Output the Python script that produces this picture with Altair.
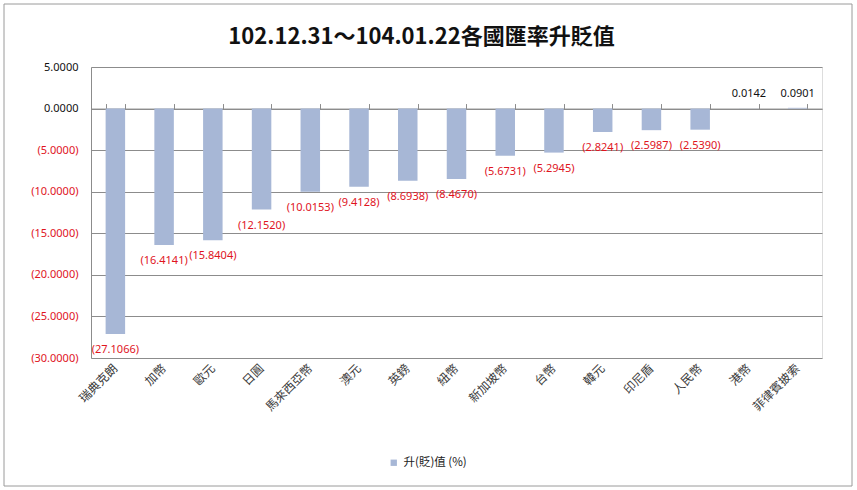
import altair as alt
import pandas as pd

currencies = ["瑞典克朗", "加幣", "歐元", "日圓", "馬來西亞幣", "澳元", "英鎊", "紐幣",
              "新加坡幣", "台幣", "韓元", "印尼盾", "人民幣", "港幣", "菲律賓披索"]
changes = [-27.1066, -16.4141, -15.8404, -12.1520, -10.0153, -9.4128, -8.6938, -8.4670,
           -5.6731, -5.2945, -2.8241, -2.5987, -2.5390, 0.0142, 0.0901]
series_name = "升(貶)值 (%)"
y_ticks = [5, 0, -5, -10, -15, -20, -25, -30]

df = pd.DataFrame({"currency": currencies, "value": changes})
df["series"] = series_name
df["label"] = [f"({abs(v):.4f})" if v < 0 else f"{v:.4f}" for v in changes]

W, H = 731, 291
BAR = "#A7B7D6"
RED = "#E0141E"
GRID = "#8C8C8C"
FONT = "Noto Sans"
CJK = "Noto Sans CJK TC"
zero_off = H * 5 / 35

xsc = alt.Scale(paddingInner=0.6, paddingOuter=0.3)
ysc = alt.Scale(domain=[-30, 5], nice=False, zero=False)

base = alt.Chart(df)

bars = base.mark_bar(color=BAR).encode(
    x=alt.X("currency:N", sort=currencies, scale=xsc, title=None,
            axis=alt.Axis(orient="bottom", labelAngle=-45, labelAlign="right",
                          labelBaseline="middle", labelPadding=8, ticks=False,
                          domain=False, labelFont=CJK, labelFontSize=12,
                          labelColor="#3A3A3A")),
    y=alt.Y("value:Q", scale=ysc, title=None,
            axis=alt.Axis(values=y_ticks, tickSize=0, labelPadding=13,
                          labelFont=FONT, labelFontSize=11,
                          labelExpr="datum.value < 0 ? '(' + format(-datum.value, '.4f') + ')' : format(datum.value, '.4f')",
                          labelColor=alt.condition("datum.value < 0", alt.value(RED), alt.value("#111111")),
                          grid=True, gridColor=GRID, gridWidth=1,
                          domain=True, domainColor=GRID)),
    color=alt.Color("series:N", scale=alt.Scale(range=[BAR]),
                    legend=alt.Legend(title=None, orient="none", legendX=297, legendY=390,
                                      symbolType="square", symbolSize=40,
                                      labelFont=CJK, labelFontSize=11.5,
                                      labelColor="#222222")),
)

neg_text = base.transform_filter("datum.value < 0").mark_text(
    baseline="middle", dy=16, font=FONT, fontSize=11, color=RED
).encode(
    x=alt.X("currency:N", sort=currencies, scale=xsc, axis=None),
    y=alt.Y("value:Q", scale=ysc),
    text="label:N",
)

pos_text = base.transform_filter("datum.value >= 0").mark_text(
    baseline="middle", dy=-14, font=FONT, fontSize=11, color="#111111"
).encode(
    x=alt.X("currency:N", sort=currencies, scale=xsc, axis=None),
    y=alt.Y("value:Q", scale=ysc),
    text="label:N",
)

zero_axis = base.mark_bar(opacity=0).encode(
    x=alt.X("currency:N", sort=currencies, scale=xsc, title=None,
            axis=alt.Axis(orient="top", offset=-zero_off, labels=False, ticks=True,
                          tickSize=5, tickBand="extent", tickColor=GRID,
                          domain=True, domainColor=GRID, grid=False)),
    y=alt.Y("value:Q", scale=ysc),
)

frame = alt.Chart(pd.DataFrame({"k": [0]})).mark_rect(
    fill=None, stroke="#9A9A9A", strokeWidth=1
).encode(
    x=alt.value(4 - 91), x2=alt.value(852 - 91),
    y=alt.value(4 - 67), y2=alt.value(486 - 67),
)

chart = alt.layer(frame, bars, neg_text, pos_text, zero_axis).resolve_axis(
    x="independent"
).properties(
    width=W, height=H,
    autosize=alt.AutoSizeParams(type="none"),
    padding={"left": 91, "top": 67, "right": 35, "bottom": 132},
    title=alt.TitleParams(
        text="102.12.31～104.01.22各國匯率升貶值",
        font="Liberation Sans Narrow, " + CJK, fontSize=22, fontWeight="bold",
        color="#111111", anchor="middle", frame="group", dx=-35,
        baseline="alphabetic", offset=-62,
    ),
).configure_view(strokeWidth=0).configure(background="white")

chart.save("out.html", embed_options={"renderer": "svg", "actions": False})
